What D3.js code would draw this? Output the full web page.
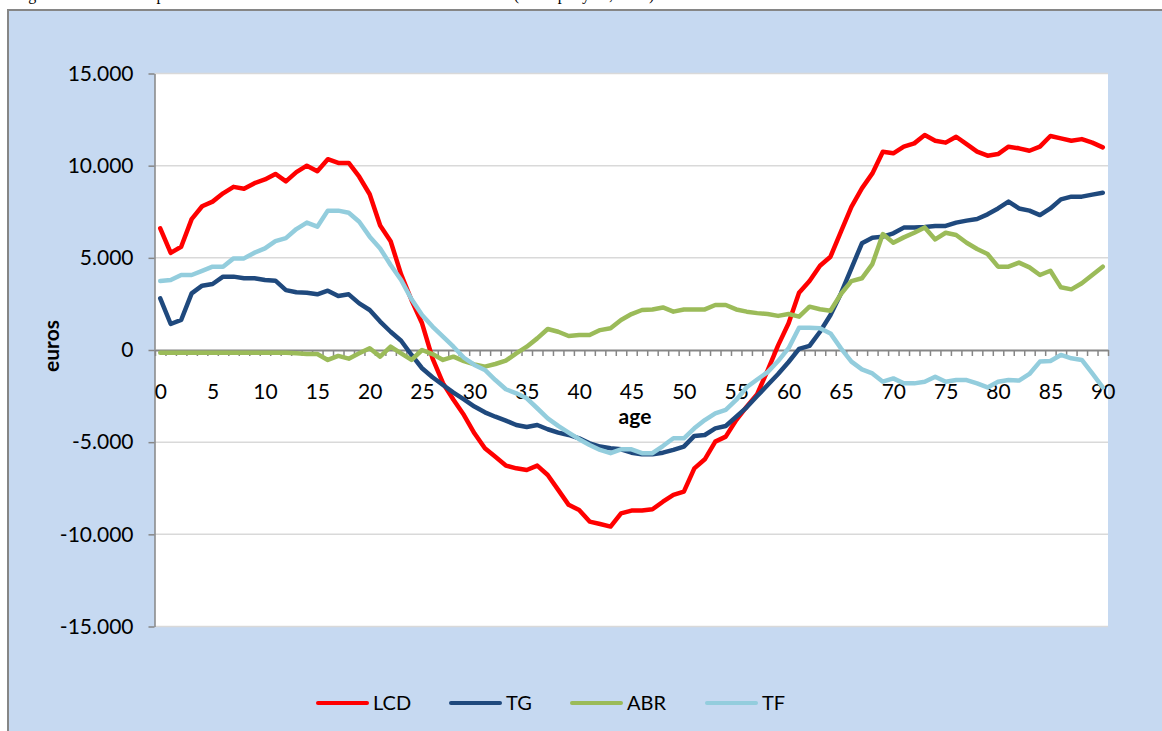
<!DOCTYPE html>
<html>
<head>
<meta charset="utf-8">
<script src="https://cdn.jsdelivr.net/npm/d3@7"></script>
<style>
  body { margin: 0; background: #fff; }
  svg { display: block; }
</style>
</head>
<body>
<div id="chart"></div>
<script>
// ages 0..90 (category axis)
const ages = d3.range(0, 91);
const xTickLabels = [0, 5, 10, 15, 20, 25, 30, 35, 40, 45, 50, 55, 60, 65, 70, 75, 80, 85, 90];
const yTicks = [-15000, -10000, -5000, 0, 5000, 10000, 15000];

const seriesNames = ["LCD", "TG", "ABR", "TF"];
const seriesColors = ["#ff0000", "#1f497d", "#9bbb59", "#93cddd"];

const lcd = [6600, 5270, 5600, 7100, 7800, 8050, 8500, 8850, 8750, 9050,
  9250, 9550, 9150, 9650, 10000, 9700, 10350, 10150, 10150, 9400,
  8450, 6750, 5900, 4100, 2700, 1450, -450, -1800, -2700, -3530,
  -4520, -5330, -5790, -6270, -6420, -6510, -6270, -6780, -7590, -8400,
  -8680, -9310, -9440, -9580, -8860, -8710, -8710, -8640, -8230, -7860,
  -7680, -6420, -5930, -4970, -4700, -3800, -3070, -2400, -1100, 250,
  1450, 3100, 3740, 4570, 5060, 6420, 7770, 8770, 9580, 10760,
  10670, 11030, 11210, 11660, 11350, 11250, 11570, 11170, 10760, 10540,
  10630, 11030, 10940, 10810, 11030, 11610, 11480, 11350, 11440, 11250,
  10990];

const tg = [2800, 1410, 1630, 3070, 3490, 3580, 3980, 3980, 3890, 3890,
  3800, 3760, 3250, 3130, 3110, 3020, 3220, 2930, 3020, 2530,
  2170, 1540, 990, 500, -270, -990, -1480, -1900, -2310, -2680,
  -3070, -3380, -3620, -3830, -4070, -4180, -4070, -4300, -4480, -4610,
  -4790, -5060, -5240, -5330, -5390, -5570, -5660, -5660, -5570, -5420,
  -5240, -4660, -4610, -4250, -4120, -3620, -3110, -2500, -1900, -1300,
  -650, 60, 220, 990, 1900, 3070, 4430, 5790, 6090, 6150,
  6330, 6640, 6640, 6670, 6730, 6730, 6910, 7020, 7110, 7360,
  7680, 8050, 7680, 7560, 7320, 7680, 8170, 8320, 8320, 8430,
  8530];

const abr = [-150, -150, -150, -150, -150, -150, -150, -150, -150, -150,
  -150, -150, -150, -180, -220, -220, -540, -320, -470, -180,
  90, -360, 180, -180, -540, 0, -220, -540, -360, -600,
  -780, -900, -760, -580, -180, 180, 630, 1140, 990, 760,
  810, 810, 1080, 1180, 1630, 1950, 2170, 2200, 2310, 2080,
  2200, 2200, 2200, 2440, 2440, 2200, 2080, 2000, 1950, 1850,
  1950, 1810, 2350, 2210, 2130, 3040, 3740, 3890, 4660, 6290,
  5820, 6110, 6360, 6650, 6000, 6360, 6240, 5820, 5480, 5210,
  4520, 4520, 4740, 4480, 4070, 4300, 3400, 3290, 3620, 4070,
  4520];

const tf = [3740, 3800, 4070, 4070, 4290, 4520, 4520, 4970, 4970, 5280,
  5510, 5910, 6070, 6560, 6910, 6690, 7560, 7560, 7450, 6960,
  6150, 5510, 4610, 3800, 2750, 1900, 1270, 720, 180, -420,
  -810, -1080, -1630, -2130, -2350, -2620, -3160, -3710, -4120, -4480,
  -4840, -5150, -5420, -5600, -5390, -5390, -5600, -5600, -5210, -4790,
  -4790, -4250, -3800, -3440, -3250, -2710, -2020, -1600, -1200, -600,
  100, 1210, 1210, 1180, 900, 90, -630, -1050, -1270, -1720,
  -1540, -1810, -1810, -1720, -1450, -1720, -1630, -1630, -1810, -2030,
  -1720, -1630, -1660, -1300, -630, -600, -270, -450, -540, -1270,
  -2030];

const seriesValues = [lcd, tg, abr, tf];

const width = 1162;
const height = 731;
const plot = { left: 155, right: 1108, top: 73.5, bottom: 626.5 };
const font = "Lato, 'Open Sans', sans-serif";

const locale = d3.formatLocale({ decimal: ",", thousands: ".", grouping: [3], currency: ["", "€"], minus: "-" });
const fmt = locale.format(",");

const svg = d3.select("#chart").append("svg")
  .attr("width", width)
  .attr("height", height);

// caption above the chart (only its lowest part is on the page)
svg.append("text")
  .attr("x", 15)
  .attr("y", 0)
  .attr("font-family", "'Liberation Serif', 'Times New Roman', serif")
  .attr("font-size", "16px")
  .attr("fill", "#000")
  .text("Figure 14: The decomposition of the life course deficit into its three elements (euros per year, 2010)");

// chart area
svg.append("rect")
  .attr("x", 8)
  .attr("y", 10)
  .attr("width", width)
  .attr("height", height)
  .attr("fill", "#c6d9f1")
  .attr("stroke", "#868686")
  .attr("stroke-width", 2);

svg.append("rect")
  .attr("x", plot.left)
  .attr("y", plot.top)
  .attr("width", plot.right - plot.left)
  .attr("height", plot.bottom - plot.top)
  .attr("fill", "#fff");

let xPoint = d3.scalePoint()
  .domain(ages)
  .range([plot.left, plot.right])
  .padding(0.5);

let xEdge = d3.scaleLinear()
  .domain([0, ages.length])
  .range([plot.left, plot.right]);

let y = d3.scaleLinear()
  .domain([-15000, 15000])
  .range([plot.bottom, plot.top]);

// gridlines
svg.append("g")
  .selectAll("line")
  .data(yTicks.filter(d => d !== 0))
  .join("line")
  .attr("x1", plot.left)
  .attr("x2", plot.right)
  .attr("y1", d => y(d))
  .attr("y2", d => y(d))
  .attr("stroke", "#d9d9d9")
  .attr("stroke-width", 1.5);

// y axis
svg.append("g")
  .attr("transform", `translate(${plot.left - 0.5},0)`)
  .call(d3.axisLeft(y).tickValues(yTicks).tickFormat(fmt).tickSize(6).tickSizeOuter(0).tickPadding(15))
  .call(g => g.select(".domain").attr("stroke", "#868686").attr("stroke-width", 1.5))
  .call(g => g.selectAll(".tick line").attr("stroke", "#868686").attr("stroke-width", 1.5))
  .call(g => g.selectAll("text").attr("font-family", font).attr("font-size", "21px").attr("fill", "#000"));

// x axis: tick marks between categories
svg.append("g")
  .attr("transform", `translate(0,${y(0)})`)
  .call(d3.axisBottom(xEdge).tickValues(d3.range(0, ages.length + 1)).tickFormat("").tickSize(6).tickSizeOuter(0))
  .call(g => g.select(".domain").attr("stroke", "#868686").attr("stroke-width", 2))
  .call(g => g.selectAll(".tick line").attr("stroke", "#868686").attr("stroke-width", 1.5));

// x axis labels
svg.append("g")
  .attr("transform", `translate(0,${y(0)})`)
  .call(d3.axisBottom(xPoint).tickValues(xTickLabels).tickSize(0).tickPadding(34))
  .call(g => g.select(".domain").remove())
  .call(g => g.selectAll("text").attr("font-family", font).attr("font-size", "21px").attr("fill", "#000"));

// axis titles
svg.append("text")
  .attr("x", 635)
  .attr("y", 424)
  .attr("text-anchor", "middle")
  .attr("font-family", font)
  .attr("font-weight", "bold")
  .attr("font-size", "21px")
  .text("age");

svg.append("text")
  .attr("transform", "translate(59,346) rotate(-90)")
  .attr("text-anchor", "middle")
  .attr("font-family", font)
  .attr("font-weight", "bold")
  .attr("font-size", "21px")
  .text("euros");

// series lines
let line = d3.line()
  .x((d, i) => xPoint(ages[i]))
  .y(d => y(d));

svg.append("g")
  .selectAll("path")
  .data(seriesValues)
  .join("path")
  .attr("d", d => line(d))
  .attr("fill", "none")
  .attr("stroke", (d, i) => seriesColors[i])
  .attr("stroke-width", 4.5)
  .attr("stroke-linejoin", "round")
  .attr("stroke-linecap", "round");

// legend
const legendX = [318, 451, 572, 707];
let legend = svg.append("g")
  .selectAll("g")
  .data(seriesNames)
  .join("g")
  .attr("transform", (d, i) => `translate(${legendX[i]},703)`);

legend.append("line")
  .attr("x1", 0)
  .attr("x2", 49)
  .attr("stroke", (d, i) => seriesColors[i])
  .attr("stroke-width", 4)
  .attr("stroke-linecap", "round");

legend.append("text")
  .attr("x", 55)
  .attr("dy", "0.36em")
  .attr("font-family", font)
  .attr("font-size", "20px")
  .text(d => d);
</script>
</body>
</html>
